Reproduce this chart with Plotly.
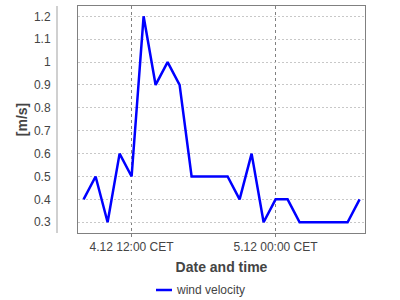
import plotly.graph_objects as go
import pandas as pd

times = pd.date_range("2023-12-04 08:00", periods=24, freq="h")
velocity = [0.4, 0.5, 0.3, 0.6, 0.5, 1.2, 0.9, 1.0, 0.9, 0.5, 0.5, 0.5,
            0.5, 0.4, 0.6, 0.3, 0.4, 0.4, 0.3, 0.3, 0.3, 0.3, 0.3, 0.4]
x_tickvals = ["2023-12-04 12:00", "2023-12-05 00:00"]
x_ticktext = ["4.12 12:00 CET", "5.12 00:00 CET"]
y_tickvals = [0.3, 0.4, 0.5, 0.6, 0.7, 0.8, 0.9, 1.0, 1.1, 1.2]
y_ticktext = ["0.3", "0.4", "0.5", "0.6", "0.7", "0.8", "0.9", "1", "1.1", "1.2"]
series_name = "wind velocity"

FONT = "Liberation Sans, Arial, sans-serif"
LINE_COLOR = "#0000ff"

# plot area in pixels: left 78, right 365, top 6, bottom 233
PL, PR, PT, PB = 78, 365, 6, 233
def px_x(p):
    return (p - PL) / (PR - PL)
def px_y(p):
    return (PB - p) / (PB - PT)

fig = go.Figure()
fig.add_trace(go.Scatter(x=times, y=velocity, mode="lines", name=series_name,
                         line=dict(color=LINE_COLOR, width=2.5), showlegend=False))

fig.update_layout(
    width=400, height=300,
    margin=dict(l=PL, r=400 - PR, t=PT, b=300 - PB, autoexpand=False),
    paper_bgcolor="white", plot_bgcolor="white",
    font=dict(family=FONT, size=12, color="#444444"),
    showlegend=False,
    xaxis=dict(
        range=["2023-12-04 07:32", "2023-12-05 07:27"],
        tickvals=x_tickvals, ticktext=x_ticktext,
        showgrid=True, gridcolor="#808080", griddash="dot", gridwidth=1,
        showline=True, linecolor="#808080", linewidth=1, mirror=True,
        ticks="outside", ticklen=3, tickcolor="#808080",
        zeroline=False,
        title=dict(text="<b>Date and time</b>", font=dict(size=14, color="#444444"), standoff=8),
    ),
    yaxis=dict(
        range=[0.253, 1.245],
        tickvals=y_tickvals, ticktext=y_ticktext,
        showgrid=True, gridcolor="#c8c8c8", griddash="2px,2px", gridwidth=1,
        showline=True, linecolor="#808080", linewidth=1, mirror=True,
        ticks="", ticklabelstandoff=24,
        zeroline=False,
        title=dict(text="<b>[m/s]</b>", font=dict(size=14, color="#444444"), standoff=3),
    ),
    shapes=[
        dict(type="line", xref="paper", yref="paper", x0=px_x(57), x1=px_x(57),
             y0=0, y1=1, line=dict(color="#c0c0c0", width=1.5)),
        dict(type="line", xref="paper", yref="paper", x0=px_x(156), x1=px_x(172),
             y0=px_y(290), y1=px_y(290), line=dict(color=LINE_COLOR, width=2.5)),
    ],
    annotations=[
        dict(text=series_name, xref="paper", yref="paper", x=px_x(173.5), y=px_y(290),
             xanchor="left", yanchor="middle", showarrow=False,
             font=dict(size=12, color="#444444")),
    ],
)

fig.write_html("out.html")
